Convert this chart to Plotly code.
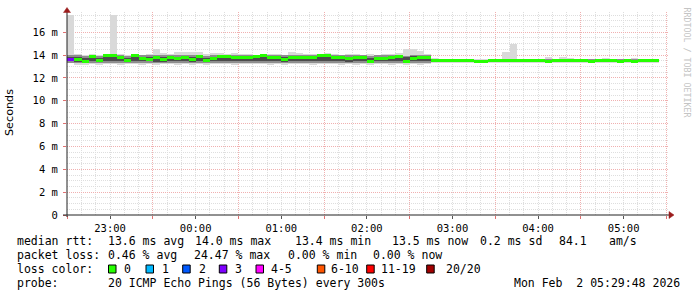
import plotly.graph_objects as go
import pandas as pd

# ---------------- data ----------------
first_step_center = "2026-02-01 22:32:30"
n_steps = 83
step_ms = 300000

median_ms = [13.63, 13.63, 13.47, 13.86, 13.53, 13.97, 13.97, 13.79, 13.54, 13.97,
             13.72, 13.65, 13.78, 13.59, 13.79, 13.72, 13.75, 13.65, 13.86, 13.50,
             13.72, 13.90, 13.90, 13.79, 13.83, 13.83, 13.90, 13.98, 13.78, 13.78,
             13.63, 13.78, 13.78, 13.78, 13.83, 14.00, 14.00, 13.78, 13.78, 13.68,
             13.80, 13.75, 13.47, 13.70, 13.70, 13.80, 13.86, 13.47, 13.68, 13.83,
             13.83,
             13.53, 13.53, 13.53, 13.50, 13.53, 13.50, 13.42, 13.42, 13.53, 13.53,
             13.55, 13.55, 13.53, 13.53, 13.53, 13.53, 13.44, 13.53, 13.55, 13.53,
             13.53, 13.53, 13.46, 13.53, 13.53, 13.53, 13.44, 13.53, 13.46, 13.53,
             13.53, 13.53]

loss_count = [3] + [0] * 82

smoke_max = [17.5, 14.1, 14.05, 14.1, 14.05, 14.1, 17.5, 14.1, 14.05, 14.1,
             14.05, 14.1, 14.5, 14.15, 14.1, 14.3, 14.3, 14.3, 14.25, 14.1,
             14.2, 14.2, 14.1, 14.15, 14.1, 14.1, 14.05, 14.1, 14.1, 14.1,
             14.05, 14.25, 14.2, 14.1, 14.1, 14.1, 14.15, 14.1, 14.05, 14.1,
             14.1, 14.05, 14.1, 14.05, 14.1, 14.1, 14.2, 14.55, 14.5, 14.4,
             14.1,
             13.72, 13.7, 13.7, 13.68, 13.7, 13.68, 13.66, 13.66, 13.7, 13.7,
             14.3, 15.0, 13.7, 13.7, 13.68, 13.7, 13.8, 13.7, 13.8, 13.75,
             13.66, 13.66, 13.68, 13.7, 13.72, 13.68, 13.68, 13.7, 13.72, 13.68,
             13.7, 13.68]

smoke_min = [13.3, 13.15, 13.1, 13.2, 13.15, 13.25, 13.2, 13.15, 13.2, 13.25,
             13.15, 13.2, 13.1, 13.2, 13.25, 13.15, 13.2, 13.15, 13.25, 13.1,
             13.2, 13.25, 13.2, 13.15, 13.25, 13.2, 13.25, 13.2, 13.15, 13.2,
             13.15, 13.2, 13.25, 13.2, 13.15, 13.25, 13.2, 13.2, 13.15, 13.2,
             13.1, 13.2, 13.15, 13.2, 13.2, 13.15, 13.25, 13.1, 13.2, 13.15,
             13.2,
             13.3, 13.32, 13.32, 13.3, 13.32, 13.3, 13.28, 13.28, 13.32, 13.32,
             13.32, 13.32, 13.32, 13.32, 13.32, 13.32, 13.3, 13.32, 13.32, 13.32,
             13.32, 13.32, 13.3, 13.32, 13.32, 13.32, 13.3, 13.32, 13.3, 13.32,
             13.32, 13.32]

smoke_q_lo = [13.35, 13.3, 13.28, 13.32, 13.3, 13.35, 13.33, 13.3, 13.32, 13.35,
              13.3, 13.32, 13.28, 13.32, 13.35, 13.3, 13.32, 13.3, 13.35, 13.28,
              13.32, 13.35, 13.32, 13.3, 13.35, 13.32, 13.35, 13.32, 13.3, 13.32,
              13.3, 13.32, 13.35, 13.32, 13.3, 13.35, 13.32, 13.32, 13.3, 13.32,
              13.28, 13.32, 13.3, 13.32, 13.32, 13.3, 13.35, 13.28, 13.32, 13.3,
              13.32,
              13.46, 13.46, 13.46, 13.44, 13.46, 13.44, 13.38, 13.38, 13.46, 13.46,
              13.47, 13.47, 13.46, 13.46, 13.46, 13.46, 13.4, 13.46, 13.47, 13.46,
              13.46, 13.46, 13.42, 13.46, 13.46, 13.46, 13.4, 13.46, 13.42, 13.46,
              13.46, 13.46]

smoke_q_hi = [13.98, 13.97, 13.95, 14.0, 13.96, 14.02, 14.02, 13.98, 13.96, 14.02,
              13.97, 13.98, 14.05, 13.97, 14.0, 14.02, 14.02, 13.98, 14.02, 13.95,
              14.0, 14.03, 14.02, 14.0, 14.02, 14.02, 14.03, 14.05, 13.98, 14.0,
              13.97, 14.02, 14.02, 14.0, 14.0, 14.05, 14.05, 14.0, 13.98, 13.98,
              14.0, 13.98, 13.96, 13.98, 13.98, 14.0, 14.02, 13.96, 14.05, 14.05,
              14.05,
              13.66, 13.65, 13.65, 13.63, 13.65, 13.63, 13.6, 13.6, 13.65, 13.65,
              13.68, 13.7, 13.65, 13.65, 13.64, 13.65, 13.7, 13.65, 13.7, 13.68,
              13.64, 13.64, 13.62, 13.65, 13.66, 13.64, 13.62, 13.65, 13.64, 13.64,
              13.65, 13.64]

smoke_core_lo = [13.45, 13.42, 13.4, 13.48, 13.42, 13.5, 13.48, 13.45, 13.42, 13.5,
                 13.45, 13.45, 13.42, 13.44, 13.48, 13.45, 13.46, 13.44, 13.5, 13.4,
                 13.45, 13.5, 13.5, 13.46, 13.48, 13.48, 13.5, 13.52, 13.45, 13.46,
                 13.42, 13.46, 13.46, 13.46, 13.48, 13.52, 13.52, 13.46, 13.45, 13.44,
                 13.46, 13.45, 13.4, 13.45, 13.45, 13.46, 13.5, 13.4, 13.45, 13.5,
                 13.5,
                 13.5, 13.5, 13.5, 13.48, 13.5, 13.48, 13.42, 13.42, 13.5, 13.5,
                 13.52, 13.52, 13.5, 13.5, 13.5, 13.5, 13.44, 13.5, 13.52, 13.5,
                 13.5, 13.5, 13.45, 13.5, 13.5, 13.5, 13.44, 13.5, 13.45, 13.5,
                 13.5, 13.5]

smoke_core_hi = [13.82, 13.8, 13.75, 13.9, 13.78, 13.95, 13.95, 13.85, 13.78, 13.95,
                 13.85, 13.82, 13.88, 13.8, 13.88, 13.85, 13.86, 13.82, 13.92, 13.75,
                 13.85, 13.92, 13.92, 13.88, 13.9, 13.9, 13.92, 13.96, 13.88, 13.88,
                 13.8, 13.88, 13.88, 13.88, 13.9, 13.98, 13.98, 13.88, 13.86, 13.82,
                 13.9, 13.86, 13.78, 13.85, 13.85, 13.9, 13.92, 13.8, 13.95, 13.95,
                 13.95,
                 13.6, 13.6, 13.6, 13.58, 13.6, 13.58, 13.52, 13.52, 13.6, 13.6,
                 13.62, 13.62, 13.6, 13.6, 13.6, 13.6, 13.55, 13.6, 13.62, 13.6,
                 13.6, 13.6, 13.56, 13.6, 13.6, 13.6, 13.55, 13.6, 13.56, 13.6,
                 13.6, 13.6]

y_tick_vals = [0, 2, 4, 6, 8, 10, 12, 14, 16]
y_tick_text = ["0", "2 m", "4 m", "6 m", "8 m", "10 m", "12 m", "14 m", "16 m"]

loss_levels = ["0", "1", "2", "3", "4-5", "6-10", "11-19", "20/20"]
loss_colors = ["#26ff00", "#00b8ff", "#0059ff", "#7e00ff", "#ff00ff", "#ff5500", "#ff0000", "#a10000"]

legend_rows = [
    [("median rtt:", 16), ("13.6 ms avg", 107), ("14.0 ms max", 194), ("13.4 ms min", 294),
     ("13.5 ms now", 390.5), ("0.2 ms sd", 479), ("84.1", 558), ("am/s", 607.5)],
    [("packet loss:", 16), ("0.46 % avg", 107), ("24.47 % max", 193), ("0.00 % min", 286.5),
     ("0.00 % now", 372)],
    [("loss color:", 16)],
    [("probe:", 16), ("20 ICMP Echo Pings (56 Bytes) every 300s", 107),
     ("Mon Feb\u00a0\u00a02 05:29:48 2026", 513)],
]
legend_row_y = [241, 255, 269, 283]
loss_box_x = [108.5, 146, 182.7, 219.3, 256, 317.3, 366.7, 426.7]
loss_text_x = [123.3, 161, 197.5, 234.3, 269.5, 330.2, 379.5, 445]

# ---------------- geometry ----------------
W, H = 697, 297
L, R, T, B = 67, 28, 12, 82
PW, PH = W - L - R, H - T - B


def px(x):
    return (x - L) / PW


def py(y):
    return (H - B - y) / PH


times = pd.date_range(first_step_center, periods=n_steps, freq="5min")


def loss_color(n):
    if n == 0:
        return loss_colors[0]
    if n == 1:
        return loss_colors[1]
    if n == 2:
        return loss_colors[2]
    if n == 3:
        return loss_colors[3]
    if n <= 5:
        return loss_colors[4]
    if n <= 10:
        return loss_colors[5]
    if n <= 19:
        return loss_colors[6]
    return loss_colors[7]


fig = go.Figure()


def band(lo, hi, color):
    fig.add_trace(go.Bar(
        x=times, base=lo, y=[h - l for l, h in zip(lo, hi)],
        width=step_ms, marker=dict(color=color, line=dict(width=0)),
        hoverinfo="skip", showlegend=False))


band(smoke_min, smoke_max, "#d9d9d9")
band(smoke_q_lo, smoke_q_hi, "#8e8e8e")
band(smoke_core_lo, smoke_core_hi, "#4c4c4c")

thick = 0.26
fig.add_trace(go.Bar(
    x=times, base=[m - thick / 2 for m in median_ms], y=[thick] * n_steps,
    width=step_ms, marker=dict(color=[loss_color(n) for n in loss_count], line=dict(width=0)),
    hoverinfo="skip", showlegend=False))

# dummy trace for the overlay axis carrying the half-hour major grid
fig.add_trace(go.Scatter(x=[times[0]], y=[median_ms[0]], xaxis="x2", mode="markers",
                         marker=dict(size=1, opacity=0), hoverinfo="skip", showlegend=False))

x_range = ["2026-02-01 22:29:48", "2026-02-02 05:31:48"]
grid_gray = "#dedede"
grid_red = "#f0b0b0"
mono = "DejaVu Sans Mono"

fig.update_layout(
    width=W, height=H,
    margin=dict(l=L, r=R, t=T, b=B, pad=0),
    paper_bgcolor="white", plot_bgcolor="white",
    barmode="overlay", bargap=0,
    showlegend=False,
    font=dict(family=mono, size=10.5, color="#000000"),
    xaxis=dict(
        type="date", range=x_range,
        tick0="2026-02-01 23:00:00", dtick=3600000, tickformat="%H:%M",
        showgrid=True, gridcolor=grid_gray, griddash="1px,1px", gridwidth=1,
        minor=dict(dtick=600000, tick0="2026-02-01 22:30:00", showgrid=True,
                   gridcolor=grid_gray, griddash="1px,1px", gridwidth=1),
        ticks="outside", ticklen=3, tickcolor="#555555",
        showline=False, zeroline=False,
        tickfont=dict(family=mono, size=10.5),
        ticklabelstandoff=0,
    ),
    xaxis2=dict(
        type="date", range=x_range, overlaying="x", anchor="y", side="bottom",
        tick0="2026-02-01 22:30:00", dtick=3600000,
        showgrid=True, gridcolor=grid_red, griddash="1px,1px", gridwidth=1,
        showticklabels=False, ticks="outside", ticklen=3, tickcolor="#e07070",
        showline=False, zeroline=False,
    ),
    yaxis=dict(
        range=[0, PH / 11.42], tickvals=y_tick_vals, ticktext=y_tick_text,
        showgrid=True, gridcolor=grid_red, griddash="1px,1px", gridwidth=1,
        minor=dict(dtick=0.5, showgrid=True, gridcolor=grid_gray, griddash="1px,1px", gridwidth=1),
        ticks="outside", ticklen=3, tickcolor="#e07070",
        showline=False, zeroline=False,
        tickfont=dict(family=mono, size=10.5),
        ticklabelstandoff=3,
    ),
)

shapes = []
# axis lines
shapes.append(dict(type="line", xref="paper", yref="paper", x0=px(63), x1=px(669), y0=py(215), y1=py(215),
                   line=dict(color="#222222", width=1), layer="above"))
shapes.append(dict(type="line", xref="paper", yref="paper", x0=px(67), x1=px(67), y0=py(217), y1=py(12),
                   line=dict(color="#222222", width=1), layer="above"))
# arrow heads
shapes.append(dict(type="path", xref="paper", yref="paper", xsizemode="pixel", ysizemode="pixel",
                   xanchor=px(669), yanchor=py(215), path="M0,-3.5 L5,0 L0,3.5 Z",
                   fillcolor="#9b1c1c", line=dict(color="#9b1c1c", width=0.5), layer="above"))
shapes.append(dict(type="path", xref="paper", yref="paper", xsizemode="pixel", ysizemode="pixel",
                   xanchor=px(67), yanchor=py(12.5), path="M-3.5,0 L3.5,0 L0,5 Z",
                   fillcolor="#9b1c1c", line=dict(color="#9b1c1c", width=0.5), layer="above"))
# loss colour boxes
for bx, col in zip(loss_box_x, loss_colors):
    shapes.append(dict(type="rect", xref="paper", yref="paper",
                       x0=px(bx), x1=px(bx + 7.5), y0=py(273), y1=py(265),
                       fillcolor=col, line=dict(color="#000000", width=1), layer="above"))
fig.update_layout(shapes=shapes)

ann = []
for row, yy in zip(legend_rows, legend_row_y):
    for txt, xx in row:
        ann.append(dict(text=txt, x=px(xx), y=py(yy), xref="paper", yref="paper",
                        xanchor="left", yanchor="middle", showarrow=False, borderpad=0,
                        font=dict(family=mono, size=11.5, color="#000000")))
for txt, xx in zip(loss_levels, loss_text_x):
    ann.append(dict(text=txt, x=px(xx), y=py(legend_row_y[2]), xref="paper", yref="paper",
                    xanchor="left", yanchor="middle", showarrow=False, borderpad=0,
                    font=dict(family=mono, size=11.5, color="#000000")))
ann.append(dict(text="Seconds", x=px(10), y=py(113), xref="paper", yref="paper",
                xanchor="center", yanchor="middle", textangle=-90, showarrow=False,
                font=dict(family="DejaVu Sans", size=11.2, color="#000000")))
ann.append(dict(text="RRDTOOL / TOBI OETIKER", x=px(686.5), y=py(5), xref="paper", yref="paper",
                xanchor="center", yanchor="top", textangle=90, showarrow=False,
                font=dict(family=mono, size=8.3, color="#c4c4c4")))
fig.update_layout(annotations=ann)

fig.write_html("out.html")
